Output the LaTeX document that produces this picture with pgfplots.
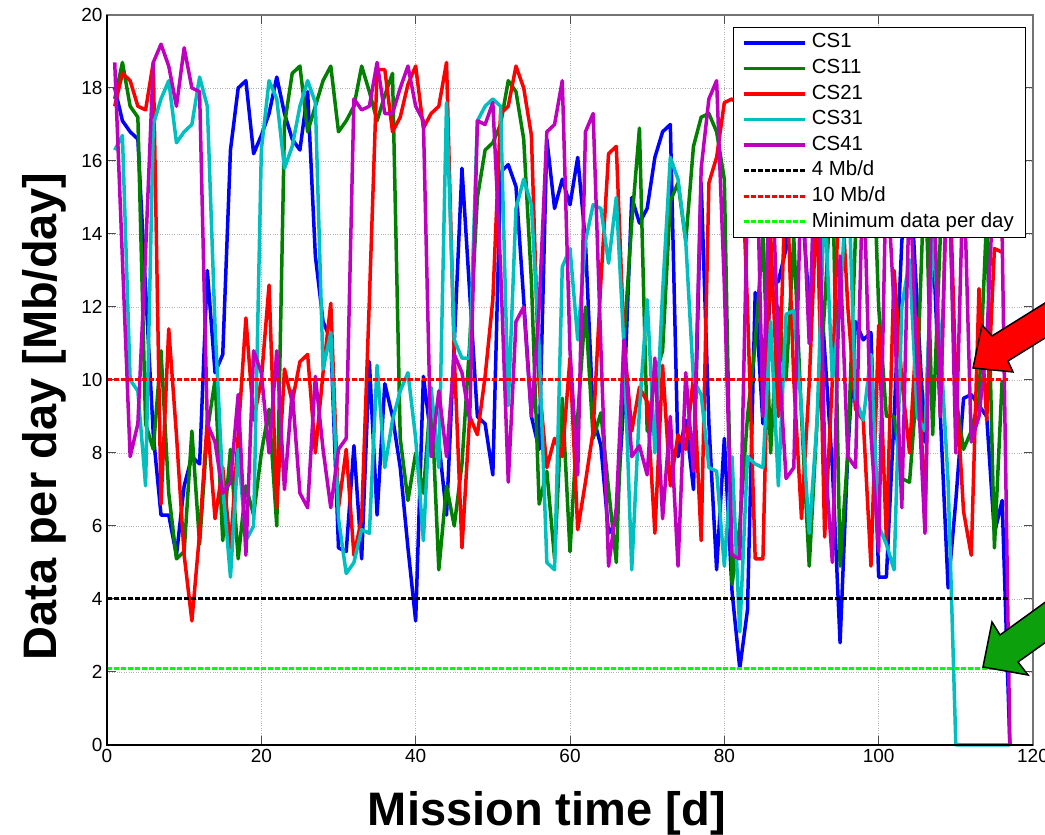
\documentclass[border=0pt]{standalone}
\usepackage{pgfplots}
\pgfplotsset{compat=1.18}
\usepackage{fontspec}
\setmainfont{Liberation Sans}
\definecolor{mcyan}{rgb}{0,0.75,0.75}
\definecolor{mmag}{rgb}{0.75,0,0.75}
\definecolor{mgreen}{rgb}{0,0.5,0}
\definecolor{agreen}{RGB}{12,160,12}
\begin{document}
\begin{tikzpicture}[x=1pt,y=1pt]
\useasboundingbox (0,0) rectangle (1045,835);
\begin{axis}[
  at={(107pt,90pt)}, anchor=south west,
  scale only axis, width=926pt, height=730pt,
  xmin=0, xmax=120, ymin=0, ymax=20,
  clip=false,
  xtick={0,20,...,120}, ytick={0,2,...,20},
  /pgf/number format/assume math mode=true,
  ticklabel style={font=\fontsize{19}{20}\selectfont},
  xticklabel style={yshift=-1pt},
  yticklabel style={xshift=-1pt},
  tick align=inside, major tick length=9pt,
  tick style={black!70, line width=1pt},
  axis line style={black!55, line width=1.2pt},
  grid=major, major grid style={black!30, dotted, line width=0.8pt},
  xlabel={Mission time [d]}, ylabel={Data per day [Mb/day]},
  label style={font=\fontsize{47}{50}\selectfont\bfseries},
  xlabel style={at={(axis description cs:0.475,-0.1096)}, anchor=base},
  ylabel style={at={(axis description cs:-0.054,0.45)}, anchor=base},
  legend style={at={(0.676,0.9836)}, anchor=north west, draw=black, line width=1pt, fill=white,
    font=\fontsize{20.4}{21}\selectfont, inner xsep=9pt, inner ysep=2.5pt,
    nodes={inner sep=3pt, text height=15pt, text depth=4.6pt},
    row sep=0pt, column sep=2pt},
  legend cell align=left,
  legend image code/.code={\draw[#1] (0pt,0pt) -- (61pt,0pt);},
  every axis plot/.append style={line width=3.5pt, line join=round},
]
\addplot[blue] coordinates {
(1,18.0)(2,17.1)(3,16.8)(4,16.6)(5,12.5)(6,8.5)(7,6.3)(8,6.3)(9,5.2)(10,7.1)
(11,7.9)(12,7.7)(13,13.0)(14,10.2)(15,10.7)(16,16.3)(17,18.0)(18,18.2)(19,16.2)(20,16.7)
(21,17.3)(22,18.3)(23,17.3)(24,16.6)(25,16.3)(26,17.9)(27,13.4)(28,11.6)(29,11.1)(30,5.4)
(31,5.3)(32,8.2)(33,5.1)(34,10.5)(35,6.3)(36,9.9)(37,9.0)(38,7.6)(39,5.4)(40,3.4)
(41,10.1)(42,8.4)(43,8.3)(44,6.3)(45,11.0)(46,15.8)(47,12.4)(48,9.0)(49,8.8)(50,7.4)
(51,15.7)(52,15.9)(53,15.3)(54,12.2)(55,9.0)(56,8.1)(57,16.6)(58,14.7)(59,15.5)(60,14.8)
(61,16.1)(62,13.8)(63,9.0)(64,8.2)(65,5.8)(66,6.1)(67,9.5)(68,15.0)(69,14.3)(70,14.7)
(71,16.1)(72,16.8)(73,17.0)(74,7.9)(75,8.9)(76,7.0)(77,15.4)(78,8.8)(79,4.8)(80,8.4)
(81,4.2)(82,2.1)(83,3.7)(84,12.4)(85,8.8)(86,12.6)(87,12.7)(88,13.6)(89,16.5)(90,15.0)
(91,12.0)(92,14.1)(93,10.8)(94,7.6)(95,2.8)(96,8.0)(97,11.6)(98,11.1)(99,11.3)(100,4.6)
(101,4.6)(102,9.0)(103,13.8)(104,16.0)(105,12.0)(106,8.3)(107,14.0)(108,9.0)(109,4.3)(110,6.7)
(111,9.5)(112,9.6)(113,9.3)(114,9.0)(115,5.8)(116,6.7)(117,0.0)};
\addlegendentry{CS1}
\addplot[mgreen] coordinates {
(1,17.7)(2,18.7)(3,17.5)(4,17.2)(5,8.8)(6,8.1)(7,10.8)(8,6.9)(9,5.1)(10,5.3)
(11,8.6)(12,5.5)(13,8.6)(14,10.0)(15,5.6)(16,8.1)(17,5.1)(18,7.1)(19,6.3)(20,8.0)
(21,9.2)(22,6.0)(23,17.0)(24,18.4)(25,18.6)(26,16.8)(27,17.5)(28,18.2)(29,18.6)(30,16.8)
(31,17.1)(32,17.5)(33,18.6)(34,17.9)(35,17.1)(36,17.8)(37,18.4)(38,8.4)(39,6.7)(40,8.0)
(41,6.9)(42,9.7)(43,4.8)(44,7.1)(45,6.0)(46,7.7)(47,11.0)(48,15.0)(49,16.3)(50,16.5)
(51,17.0)(52,18.2)(53,17.9)(54,16.6)(55,12.7)(56,6.6)(57,7.5)(58,5.1)(59,9.5)(60,5.3)
(61,9.0)(62,12.0)(63,8.4)(64,9.1)(65,7.0)(66,5.0)(67,11.1)(68,14.3)(69,16.9)(70,8.6)
(71,10.1)(72,10.8)(73,14.9)(74,15.4)(75,13.8)(76,16.4)(77,17.2)(78,17.3)(79,16.8)(80,15.5)
(81,4.4)(82,6.0)(83,9.0)(84,11.0)(85,14.0)(86,8.0)(87,12.0)(88,10.0)(89,13.9)(90,9.0)
(91,4.9)(92,8.8)(93,12.0)(94,16.0)(95,4.9)(96,8.0)(97,14.0)(98,16.5)(99,18.0)(100,12.0)
(101,9.0)(102,9.0)(103,7.3)(104,7.2)(105,10.0)(106,16.0)(107,8.5)(108,14.0)(109,16.0)(110,9.5)
(111,8.1)(112,8.6)(113,9.5)(114,14.5)(115,5.4)(116,10.0)};
\addlegendentry{CS11}
\addplot[red] coordinates {
(1,17.5)(2,18.4)(3,18.2)(4,17.5)(5,17.4)(6,18.7)(7,6.6)(8,11.4)(9,8.5)(10,5.2)
(11,3.4)(12,5.8)(13,8.9)(14,6.2)(15,7.6)(16,5.4)(17,8.5)(18,11.7)(19,8.9)(20,10.0)
(21,12.6)(22,6.5)(23,10.3)(24,9.4)(25,10.5)(26,10.7)(27,8.0)(28,10.2)(29,12.1)(30,6.5)
(31,8.1)(32,5.2)(33,6.2)(34,12.2)(35,18.5)(36,18.5)(37,16.8)(38,17.2)(39,18.1)(40,18.6)
(41,16.9)(42,17.3)(43,17.5)(44,18.7)(45,10.7)(46,5.4)(47,9.0)(48,8.5)(49,10.1)(50,12.2)
(51,17.3)(52,17.5)(53,18.6)(54,18.0)(55,16.7)(56,9.9)(57,7.6)(58,8.4)(59,7.9)(60,10.6)
(61,5.9)(62,7.2)(63,8.6)(64,12.7)(65,16.2)(66,16.4)(67,11.1)(68,8.6)(69,9.8)(70,9.4)
(71,5.8)(72,10.4)(73,7.1)(74,8.5)(75,8.1)(76,10.1)(77,5.6)(78,15.4)(79,16.1)(80,17.6)
(81,17.7)(82,17.5)(83,12.0)(84,5.1)(85,5.1)(86,14.0)(87,9.0)(88,16.0)(89,10.0)(90,6.2)
(91,9.9)(92,15.0)(93,5.7)(94,10.0)(95,16.0)(96,12.0)(97,9.2)(98,8.9)(99,4.9)(100,11.5)
(101,5.6)(102,13.0)(103,10.0)(104,8.0)(105,11.7)(106,6.0)(107,16.0)(108,9.0)(109,17.0)(110,10.0)
(111,6.4)(112,5.2)(113,12.5)(114,8.9)(115,13.6)(116,13.5)};
\addlegendentry{CS21}
\addplot[mcyan] coordinates {
(1,16.3)(2,16.7)(3,10.0)(4,9.7)(5,7.1)(6,17.0)(7,17.7)(8,18.2)(9,16.5)(10,16.8)
(11,17.0)(12,18.3)(13,17.5)(14,11.5)(15,7.1)(16,4.6)(17,8.1)(18,5.6)(19,6.0)(20,16.3)
(21,18.2)(22,17.7)(23,15.8)(24,16.4)(25,17.5)(26,18.2)(27,17.6)(28,10.3)(29,11.3)(30,6.2)
(31,4.7)(32,5.0)(33,5.9)(34,5.8)(35,10.4)(36,7.6)(37,8.9)(38,9.7)(39,10.2)(40,8.4)
(41,5.6)(42,9.8)(43,7.6)(44,17.6)(45,11.1)(46,10.6)(47,10.6)(48,17.1)(49,17.5)(50,17.7)
(51,17.5)(52,9.3)(53,14.7)(54,15.5)(55,14.8)(56,10.9)(57,5.0)(58,4.8)(59,13.1)(60,13.6)
(61,11.1)(62,13.8)(63,14.8)(64,14.7)(65,13.2)(66,15.0)(67,10.9)(68,4.8)(69,9.2)(70,12.2)
(71,8.0)(72,12.4)(73,16.1)(74,15.5)(75,13.8)(76,10.0)(77,9.6)(78,7.6)(79,7.5)(80,4.9)
(81,7.9)(82,3.1)(83,7.9)(84,7.7)(85,7.6)(86,11.6)(87,7.1)(88,11.8)(89,11.9)(90,9.2)
(91,5.8)(92,8.8)(93,15.0)(94,10.0)(95,12.0)(96,16.0)(97,9.5)(98,8.9)(99,10.7)(100,6.0)
(101,5.5)(102,4.8)(103,12.0)(104,13.3)(105,9.0)(106,8.6)(107,14.0)(108,11.0)(109,7.2)(110,0)
(111,0)(112,0)(113,0)(114,0)(115,0)(116,0)(117,0)};
\addlegendentry{CS31}
\addplot[mmag] coordinates {
(1,18.7)(2,13.3)(3,7.9)(4,8.8)(5,13.5)(6,18.7)(7,19.2)(8,18.6)(9,17.5)(10,19.1)
(11,18.0)(12,17.9)(13,8.8)(14,8.3)(15,6.9)(16,7.2)(17,9.6)(18,5.2)(19,10.8)(20,10.2)
(21,8.0)(22,10.8)(23,7.0)(24,9.7)(25,6.9)(26,6.5)(27,10.1)(28,8.1)(29,6.5)(30,8.1)
(31,8.4)(32,17.7)(33,17.4)(34,17.5)(35,18.7)(36,17.3)(37,17.3)(38,18.0)(39,18.6)(40,17.5)
(41,17.1)(42,7.9)(43,9.7)(44,7.9)(45,10.7)(46,10.2)(47,8.9)(48,17.1)(49,17.0)(50,17.6)
(51,13.1)(52,7.2)(53,11.6)(54,12.0)(55,9.0)(56,12.0)(57,16.8)(58,17.0)(59,18.2)(60,10.8)
(61,7.4)(62,16.8)(63,17.3)(64,10.9)(65,4.9)(66,6.5)(67,11.1)(68,7.9)(69,8.2)(70,7.4)
(71,10.6)(72,6.2)(73,9.0)(74,4.9)(75,10.2)(76,7.5)(77,15.8)(78,17.7)(79,18.2)(80,12.6)
(81,5.2)(82,5.1)(83,15.0)(84,18.0)(85,9.0)(86,17.0)(87,10.8)(88,7.3)(89,7.6)(90,16.0)
(91,11.0)(92,18.0)(93,8.0)(94,5.0)(95,13.4)(96,7.9)(97,7.6)(98,16.0)(99,8.5)(100,5.3)
(101,16.0)(102,12.0)(103,6.5)(104,15.5)(105,10.3)(106,5.8)(107,16.5)(108,9.0)(109,17.0)(110,8.0)
(111,16.0)(112,8.3)(113,9.0)(114,11.0)(115,16.0)(116,14.0)(117,0)};
\addlegendentry{CS41}
\addplot[black, line width=3pt, dash pattern=on 4.5pt off 2.5pt] coordinates {(0,4)(117,4)};
\addlegendentry{4 Mb/d}
\addplot[red, line width=3pt, dash pattern=on 4.5pt off 2.5pt] coordinates {(0,10)(117,10)};
\addlegendentry{10 Mb/d}
\addplot[green, line width=3pt, dash pattern=on 4.5pt off 2.5pt] coordinates {(0,2.1)(117,2.1)};
\addlegendentry{Minimum data per day}
\draw[black, line width=1.3pt] (rel axis cs:0,1) -- (rel axis cs:0,0) -- (rel axis cs:1,0);
\end{axis}
% annotation arrows (image coordinates converted: y -> 835 - y)
\begin{scope}
\clip (0,0) rectangle (1045,835);
\draw[fill=red, line width=1.5pt, line join=miter]
  (973,835-368) -- (982,835-325) -- (992,835-336) -- (1119,835-257) --
  (1135,835-282) -- (1008,835-361) -- (1013,835-372) -- cycle;
\draw[fill=agreen, line width=1.5pt, line join=miter]
  (983,835-667) -- (992,835-622) -- (1000,835-635) -- (1120,835-548) --
  (1140,835-575) -- (1018,835-662) -- (1028,835-675) -- cycle;
\end{scope}
\end{tikzpicture}
\end{document}
